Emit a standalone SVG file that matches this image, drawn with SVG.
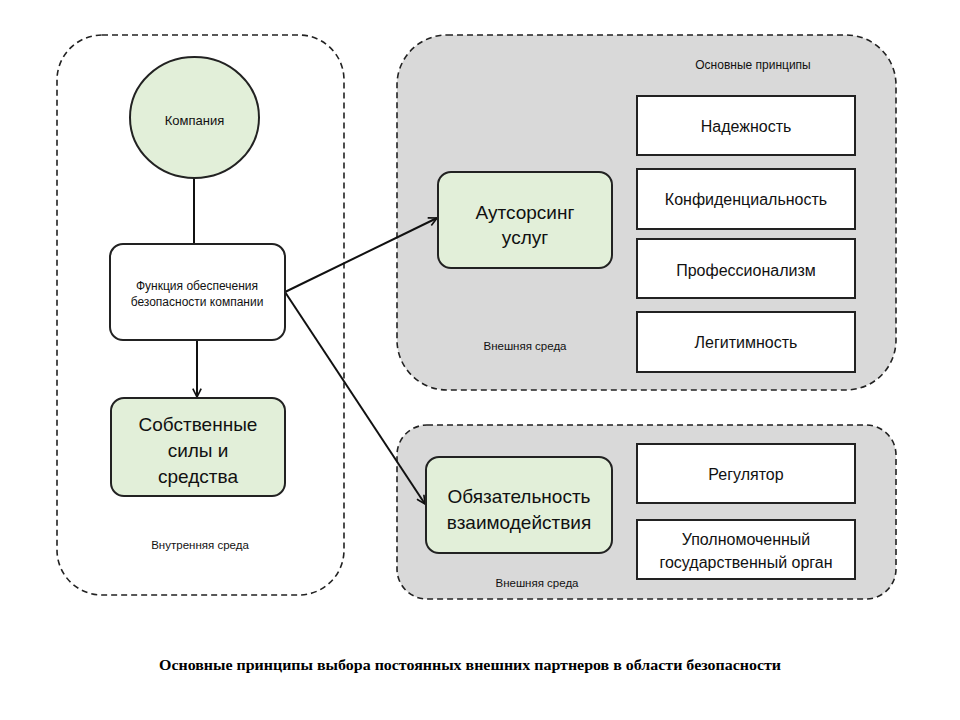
<svg xmlns="http://www.w3.org/2000/svg" width="960" height="720" viewBox="0 0 960 720">
<style>
.cont{stroke:#222;stroke-width:1.6;stroke-dasharray:6,4}
.node{stroke:#222;stroke-width:2}
.green{fill:#e2efd9}
.white{fill:#fff}
.t{font-family:"Liberation Sans",Arial,sans-serif;fill:#111;text-anchor:middle}
.s{font-size:11.5px}
.f{font-size:12px}
.m{font-size:16px}
.l{font-size:19px}
.edge{stroke:#111;stroke-width:2;fill:none}
</style>
<defs>
<marker id="arr" viewBox="0 0 12 12" refX="11" refY="6" markerWidth="10" markerHeight="10" markerUnits="userSpaceOnUse" orient="auto">
<path d="M1,1 L11,6 L1,11" fill="none" stroke="#111" stroke-width="2"/>
</marker>
</defs>
<rect width="960" height="720" fill="#fff"/>
<g id="internal">
<rect x="57" y="35" width="287" height="560" rx="45" fill="#fff" class="cont"/>
<text x="200" y="549" class="t s">Внутренняя среда</text>
</g>
<g id="external1">
<rect x="397" y="35" width="499" height="355" rx="50" fill="#d9d9d9" class="cont"/>
<text x="753" y="69" class="t f">Основные принципы</text>
<text x="525" y="350" class="t s">Внешняя среда</text>
</g>
<g id="external2">
<rect x="397" y="425" width="499" height="174" rx="30" fill="#d9d9d9" class="cont"/>
<text x="537" y="587" class="t s">Внешняя среда</text>
</g>
<g id="connectors">
<line x1="194" y1="178" x2="194" y2="244" class="edge"/>
<line x1="197" y1="340" x2="197" y2="397" class="edge" marker-end="url(#arr)"/>
<line x1="285" y1="292" x2="437" y2="218" class="edge" marker-end="url(#arr)"/>
<line x1="285" y1="292" x2="425" y2="504" class="edge" marker-end="url(#arr)"/>
</g>
<g id="company">
<ellipse cx="194.5" cy="117.5" rx="64.5" ry="60.5" class="node green"/>
<text x="194.5" y="125" class="t" font-size="13">Компания</text>
</g>
<g id="function">
<rect x="110" y="244" width="175" height="96" rx="13" class="node white"/>
<text x="197" y="290" class="t f">Функция обеспечения</text>
<text x="197" y="306" class="t f">безопасности компании</text>
</g>
<g id="own">
<rect x="111" y="398" width="174" height="98" rx="13" class="node green"/>
<text x="198" y="431" class="t l">Собственные</text>
<text x="198" y="457" class="t l">силы и</text>
<text x="198" y="483" class="t l">средства</text>
</g>
<g id="outsourcing">
<rect x="438" y="172" width="174" height="96" rx="13" class="node green"/>
<text x="525" y="219" class="t l">Аутсорсинг</text>
<text x="525" y="244" class="t l">услуг</text>
</g>
<g id="obligation">
<rect x="426" y="457" width="186" height="96" rx="13" class="node green"/>
<text x="519" y="503" class="t l">Обязательность</text>
<text x="519" y="529" class="t l">взаимодействия</text>
</g>
<g id="p1"><rect x="637" y="96" width="218" height="59" class="node white"/><text x="746" y="132" class="t m">Надежность</text></g>
<g id="p2"><rect x="637" y="169" width="218" height="60" class="node white"/><text x="746" y="205" class="t m">Конфиденциальность</text></g>
<g id="p3"><rect x="637" y="239" width="218" height="59" class="node white"/><text x="746" y="276" class="t m">Профессионализм</text></g>
<g id="p4"><rect x="637" y="312" width="218" height="60" class="node white"/><text x="746" y="348" class="t m">Легитимность</text></g>
<g id="r1"><rect x="637" y="444" width="218" height="59" class="node white"/><text x="746" y="480" class="t m">Регулятор</text></g>
<g id="r2"><rect x="637" y="520" width="218" height="59" class="node white"/><text x="746" y="545" class="t m">Уполномоченный</text><text x="746" y="568" class="t m">государственный орган</text></g>
<text x="470" y="670" font-family="'Liberation Serif','Times New Roman',serif" font-weight="bold" font-size="14" text-anchor="middle" textLength="622" lengthAdjust="spacingAndGlyphs">Основные принципы выбора постоянных внешних партнеров в области безопасности</text>
</svg>
